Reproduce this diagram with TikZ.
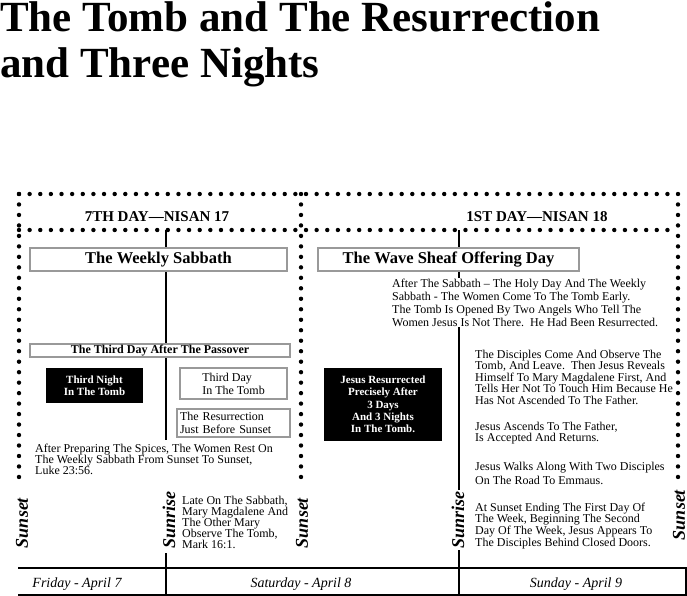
\documentclass[tikz,border=0pt]{standalone}
\usepackage{fontspec}
\setmainfont{Liberation Serif}
\usetikzlibrary{positioning}
\setlength{\lineskiplimit}{-20pt}

\begin{document}
\begin{tikzpicture}[
    x=1pt, y=-1pt,
    dots/.style={line width=4.4pt, line cap=round, dash pattern=on 0pt off #1},
    dots/.default=10.63pt,
    rule/.style={line width=2pt},
    graybox/.style={draw=black!40, line width=1.2pt, fill=white, inner sep=0pt, align=center},
    blackbox/.style={fill=black, text=white, inner sep=0pt, align=center, font=\fontsize{11}{12.3}\selectfont\bfseries},
    lead/.style={font=\fontsize{12}{#1}\selectfont},
    note/.style={fill=white, inner sep=1pt, align=left, anchor=base west},
    daytitle/.style={anchor=base, font=\fontsize{15}{15}\selectfont\bfseries},
    horizon/.style={rotate=90, fill=white, inner sep=1pt, font=\fontsize{18}{18}\selectfont\bfseries\itshape},
    dayname/.style={anchor=base, font=\fontsize{14}{14}\selectfont\itshape}
]
    \useasboundingbox (0,0) rectangle (687,596);

    \coordinate (nw) at (19,194);
    \coordinate (ne) at (678,194);
    \coordinate (hw) at (19,230);
    \coordinate (he) at (678,230);
    \coordinate (sw) at (19,477);
    \coordinate (se) at (678,477);
    \coordinate (mtop) at (301,194);
    \coordinate (mbot) at (301,477);
    \coordinate (sattop) at (166,230);
    \coordinate (satgap) at (166,440);
    \coordinate (satresume) at (166,553);
    \coordinate (satbot) at (166,595);
    \coordinate (suntop) at (459,230);
    \coordinate (sunbot) at (459,595);
    \coordinate (tlw) at (18,568);
    \coordinate (tle) at (686,568);
    \coordinate (blw) at (18,595);
    \coordinate (ble) at (686,595);

    \draw[dots] (nw) -- (ne);
    \draw[dots] (hw) -- (he);
    \draw[dots=10.48pt] (nw) -- (sw);
    \draw[dots=10.48pt] (mtop) -- (mbot);
    \draw[dots=10.48pt] (ne) -- (se);
    \draw[rule] (sattop) -- (satgap);
    \draw[rule] (satresume) -- (satbot);
    \draw[rule] (suntop) -- (sunbot);
    \draw[rule] (tlw) -- (tle) -- (ble) -- (blw);

    \node[anchor=base west, align=left, inner sep=0pt, font=\fontsize{43}{46}\selectfont\bfseries] (title) at (0,78) {The Tomb and The Resurrection\\and Three Nights};

    \node[daytitle] (seventh) at (157,221) {7TH DAY—NISAN 17};
    \node[daytitle] (first) at (537,221) {1ST DAY—NISAN 18};

    \node[graybox, minimum width=257, minimum height=23, font=\fontsize{16.5}{18}\selectfont\bfseries] (sabbath) at (158.5,259.5) {The Weekly Sabbath};
    \node[graybox, minimum width=261, minimum height=23, font=\fontsize{16.5}{18}\selectfont\bfseries] (wavesheaf) at (448.5,259.5) {The Wave Sheaf Offering Day};
    \node[graybox, minimum width=260, minimum height=13, font=\fontsize{12}{12}\selectfont\bfseries] (passover) at (160,350.5) {The Third Day After The Passover};

    \node[blackbox, minimum width=97, minimum height=35] (thirdnight) at (94.5,385.5) {Third Night\\In The Tomb};
    \node[graybox, lead=13, align=left, minimum width=107, minimum height=31] (thirdday) at (233.5,383.5) {Third Day\\In The Tomb};
    \node[graybox, lead=13, align=left, text width=107, minimum width=113, minimum height=28] (resurrection) at (233.5,423) {The Resurrection\\Just Before Sunset};
    \node[blackbox, minimum width=118, minimum height=73] (risen) at (383,404.5) {Jesus Resurrected\\Precisely After\\3 Days\\And 3 Nights\\In The Tomb.};

    \node[note, lead=11] (spices) at (34,474) {After Preparing The Spices, The Women Rest On\\The Weekly Sabbath From Sunset To Sunset,\\Luke 23:56.};
    \node[note, lead=11] (observe) at (181,548) {Late On The Sabbath,\\Mary Magdalene And\\The Other Mary\\Observe The Tomb,\\Mark 16:1.};
    \node[note, lead=12.7] (early) at (391,326) {After The Sabbath – The Holy Day And The Weekly\\Sabbath - The Women Come To The Tomb Early.\\The Tomb Is Opened By Two Angels Who Tell The\\Women Jesus Is Not There.\ \ He Had Been Resurrected.};
    \node[note, lead=11.6] (disciples) at (474,404.4) {The Disciples Come And Observe The\\Tomb, And Leave.\ \ Then Jesus Reveals\\Himself To Mary Magdalene First, And\\Tells Her Not To Touch Him Because He\\Has Not Ascended To The Father.};
    \node[note, lead=11.7] (ascends) at (474,441.7) {Jesus Ascends To The Father,\\Is Accepted And Returns.};
    \node[note, lead=13.5] (emmaus) at (474,484) {Jesus Walks Along With Two Disciples\\On The Road To Emmaus.};
    \node[note, lead=11.9] (doors) at (474,546.7) {At Sunset Ending The First Day Of\\The Week, Beginning The Second\\Day Of The Week, Jesus Appears To\\The Disciples Behind Closed Doors.};

    \node[horizon] (fridayset) at (22,523) {Sunset};
    \node[horizon] (satrise) at (169,520) {Sunrise};
    \node[horizon] (saturdayset) at (302,523) {Sunset};
    \node[horizon] (sunrise) at (458,520) {Sunrise};
    \node[horizon] (sundayset) at (679,515) {Sunset};

    \node[dayname] (friday) at (77,587) {Friday - April 7};
    \node[dayname] (saturday) at (301,587) {Saturday - April 8};
    \node[dayname] (sunday) at (576,587) {Sunday - April 9};
\end{tikzpicture}
\end{document}
